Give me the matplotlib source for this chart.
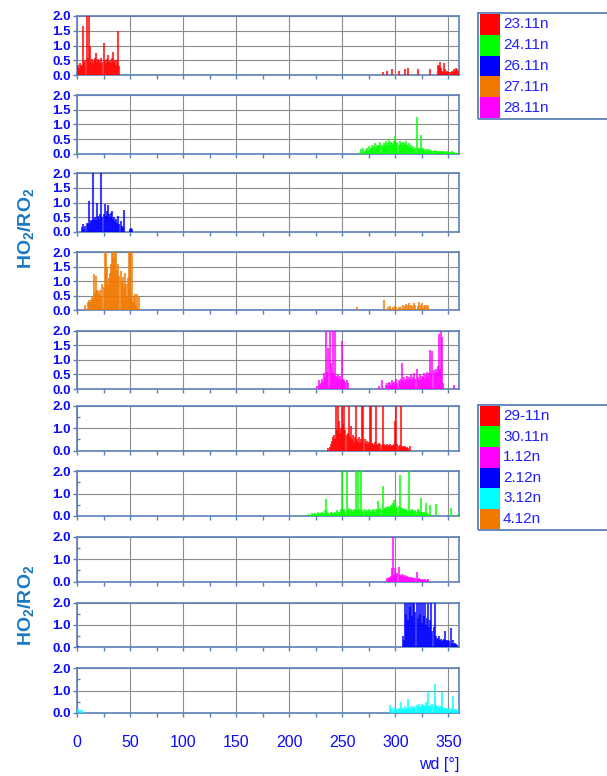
import numpy as np
import matplotlib
matplotlib.use("Agg")
import matplotlib.pyplot as plt
from matplotlib.patches import Rectangle
from matplotlib.ticker import MultipleLocator, FormatStrFormatter

plt.rcParams['font.family'] = ['Liberation Sans', 'DejaVu Sans']

# ---- data: wind direction (deg) and HO2/RO2 ratio per night ----
wd_2311 = [1, 2, 3, 4, 5, 6, 7, 8, 9, 10, 11, 12, 13, 14, 15, 16, 17, 18, 19, 20,
           21, 22, 23, 24, 25, 26, 27, 28, 29, 30, 31, 32, 33, 34, 35, 36, 37, 38, 39, 40,
           288, 292, 297, 303, 309, 312, 321, 333, 340, 341, 342, 343, 344, 345, 346, 347,
           348, 349, 350, 351, 352, 353, 354, 355, 356, 357, 358, 359]
r_2311 = [.35, .25, .4, .3, .35, 1.65, .45, .5, 2.0, .6, 2.0, 1.0, .45, .55, .4, .5, .6, .75, .45, .55,
          .5, .4, .6, .45, 1.1, .5, .4, .55, .7, .45, .5, .4, .6, .8, .45, .5, .35, .5, 1.5, .3,
          .1, .15, .2, .15, .2, .25, .2, .2, .35, .3, .45, .25, .15, .1, .4, .2,
          .1, .15, .1, .1, .1, .15, .1, .2, .15, .25, .2, .15]

wd_2411 = [1, 268, 269, 270, 271, 272, 273, 274, 275, 276, 277, 278, 279, 280, 281, 282, 283, 284,
           285, 286, 287, 288, 289, 290, 291, 292, 293, 294, 295, 296, 297, 298, 299, 300, 301,
           302, 303, 304, 305, 306, 307, 308, 309, 310, 311, 312, 313, 314, 315, 316, 317, 318,
           319, 320, 321, 322, 323, 324, 325, 326, 327, 328, 329, 330, 331, 332, 333, 334, 335,
           336, 337, 338, 339, 340, 341, 342, 343, 344, 345, 346, 347, 348, 349, 350, 351, 352,
           353, 354, 355, 356, 357, 358, 359]
r_2411 = [.03, .15, .05, .2, .1, .15, .2, .1, .25, .15, .2, .3, .2, .25, .35, .2, .3, .25,
          .3, .4, .3, .25, .35, .3, .45, .3, .35, .5, .3, .4, .35, .3, .45, .6, .35,
          .4, .3, .45, .35, .3, .4, .35, .3, .45, .3, .25, .35, .2, .3, .2, .25, .15,
          .2, 1.25, .2, .15, .2, .65, .15, .2, .1, .15, .1, .15, .1, .15, .1, .12, .08,
          .1, .12, .08, .1, .06, .1, .05, .08, .1, .05, .08, .06, .05, .08, .05, .06, .05,
          .08, .04, .05, .03, .04, .02, .03]

wd_2611 = [5, 6, 7, 8, 9, 10, 11, 12, 13, 14, 15, 16, 17, 18, 19, 20, 21, 22, 23, 24,
           25, 26, 27, 28, 29, 30, 31, 32, 33, 34, 35, 36, 37, 38, 39, 40, 41, 42, 43, 44,
           50, 51, 52]
r_2611 = [.15, .25, .1, .2, .3, .25, 1.05, .3, .4, .35, 2.0, .45, .5, .4, 1.0, .55, .45, .6, 2.0, .5,
          .6, .95, .55, .7, .9, .6, .5, .65, .7, .45, .5, .35, .45, .3, .55, .25, .35, .2, .15, .75,
          .1, .12, .08]

wd_2711 = [8, 9, 10, 11, 12, 13, 14, 15, 16, 17, 18, 19, 20, 21, 22, 23, 24, 25, 26, 27,
           28, 29, 30, 31, 32, 33, 34, 35, 36, 37, 38, 39, 40, 41, 42, 43, 44, 45, 46, 47,
           48, 49, 50, 51, 52, 53, 54, 55, 56, 57, 58,
           264, 289, 293, 295, 298, 300, 301, 303, 305, 307, 309, 310, 312, 313, 315, 316,
           318, 319, 321, 322, 324, 325, 327, 328, 330, 331]
r_2711 = [.2, .05, .3, .35, .3, .35, .5, .4, 1.25, .6, 1.2, .7, .65, .55, .7, .5, .9, .8, 2.0, 2.0,
          1.5, .9, 1.1, 1.3, 1.6, 2.0, 2.0, 1.8, 2.0, 2.0, 1.4, 1.6, 1.2, 1.35, 1.0, 1.15, .8, 1.3, .9, .5,
          1.1, 2.0, 2.0, .4, 2.0, .3, .5, .55, .2, .55, .5,
          .1, .35, .1, .15, .1, .15, .1, .12, .1, .2, .15, .22, .18, .25, .2, .15,
          .25, .2, .15, .28, .2, .25, .15, .2, .18, .15]

wd_2811 = [226, 228, 229, 230, 231, 232, 233, 234, 235, 236, 237, 238, 239, 240, 241, 242, 243,
           244, 245, 246, 247, 248, 249, 250, 251, 252, 253, 254, 255,
           285, 287, 288, 291, 292, 293, 294, 295, 296, 297, 298, 299, 300, 301, 302, 303, 304,
           305, 306, 307, 308, 309, 310, 311, 312, 313, 314, 315, 316, 317, 318, 319, 320, 321,
           322, 323, 324, 325, 326, 327, 328, 329, 330, 331, 332, 333, 334, 335, 336, 337, 338,
           339, 340, 341, 342, 343, 344, 345, 355]
r_2811 = [.1, .3, .15, .2, .35, .25, .55, .4, 2.0, .6, 1.4, 2.0, .9, .6, 2.0, .5, 2.0,
          .45, .4, .5, .35, .45, .3, 1.65, .35, .3, .25, .3, .2,
          .1, .3, .05, .15, .2, .1, .25, .2, .15, .3, .2, .25, .15, .35, .2, .3, .25,
          .35, .9, .3, .4, .25, .35, .45, .3, .4, .35, .5, .3, .4, .55, .35, .7, .4,
          .3, .5, .35, .45, .4, .55, .35, .5, .6, .45, .55, 1.35, .5, 1.3, .65, .55, .7,
          .6, .8, 1.9, .7, 2.0, 1.8, .2, .15]

wd_2911 = [237, 238, 239, 240, 241, 242, 243, 244, 245, 246, 247, 248, 249, 250, 251, 252, 253,
           254, 255, 256, 257, 258, 259, 260, 261, 262, 263, 264, 265, 266, 267, 268, 269, 270,
           271, 272, 273, 274, 275, 276, 277, 278, 279, 280, 281, 282, 283, 284, 285, 286, 287,
           288, 289, 290, 291, 292, 293, 294, 295, 296, 297, 298, 299, 300, 301, 302, 303, 304,
           305, 306, 307, 308, 309, 310, 311, 312, 314]
r_2911 = [.1, .15, .3, .45, .6, .7, .5, 2.0, .9, 2.0, 1.3, .8, 1.0, 2.0, 1.2, 2.0, .9,
          .7, .8, 2.0, .6, 1.1, .5, .7, .4, .6, 2.0, .5, .4, .6, .35, .5, 2.0, 2.0,
          .5, .35, .45, .3, .4, 2.0, 2.0, .35, .3, .25, .4, 2.0, .3, .25, .35, .3, .25,
          2.0, .3, .2, .25, .3, .2, .25, .3, .2, .25, .2, .3, 1.3, 2.0, .3, .2, .25,
          2.0, .15, .2, .15, .2, .1, .15, .1, .2]

wd_3011 = [206, 219, 220, 221, 222, 223, 224, 225, 226, 227, 228, 229, 230, 231, 232, 233, 234,
           235, 236, 237, 238, 239, 240, 241, 242, 243, 244, 245, 246, 247, 248, 249, 250, 251,
           252, 253, 254, 255, 256, 257, 258, 259, 260, 261, 262, 263, 264, 265, 266, 267, 268,
           269, 270, 271, 272, 273, 274, 275, 276, 277, 278, 279, 280, 281, 282, 283, 284, 285,
           286, 287, 288, 289, 290, 291, 292, 293, 294, 295, 296, 297, 298, 299, 300, 301, 302,
           303, 304, 305, 306, 307, 308, 309, 310, 311, 312, 313, 314, 315, 316, 317, 318, 319,
           320, 321, 322, 323, 324, 325, 326, 327, 328, 329, 330, 331, 333, 338, 352, 359]
r_3011 = [.03, .1, .05, .12, .08, .1, .15, .1, .08, .2, .1, .15, .12, .2, .15, .1, .25,
          .75, .2, .15, .1, .2, .12, .15, .1, .2, .15, .25, .1, .2, .15, .3, 2.0, .25,
          .3, .2, 2.0, .25, .35, .2, .3, .25, .2, .3, .25, 2.0, .2, 2.0, .3, .25, 2.0,
          .2, .25, .3, .2, .25, .15, .3, .2, .25, .2, .3, .25, .2, .3, .25, .65, .3,
          .35, .25, 1.35, .3, .35, .4, .3, .45, .35, .4, .5, .45, .6, .7, .55, .4, .35,
          .45, 1.85, .4, .3, .35, .3, .25, .3, .25, .2, 2.0, .25, .2, .3, .25, .2, .25,
          .2, .3, .25, .2, .8, .2, .15, .2, .15, .6, .15, .1, .5, .55, .35, .1]

wd_0112 = [291, 292, 293, 294, 295, 296, 297, 298, 299, 300, 301, 302, 303, 304, 305, 306, 307,
           308, 309, 310, 311, 312, 313, 314, 315, 316, 317, 318, 319, 320, 321, 322, 323, 324,
           325, 326, 327, 328, 329, 330, 331]
r_0112 = [.05, .15, .1, .2, .15, .25, .6, 2.0, .3, .6, .35, .4, .65, .3, .25, .35, .3,
          .25, .3, .2, .25, .2, .15, .2, .15, .2, .15, .1, .15, .45, .1, .15, .1, .12,
          .08, .1, .08, .1, .05, .08, .1]

wd_0212 = [1, 307, 308, 309, 310, 311, 312, 313, 314, 315, 316, 317, 318, 319, 320, 321, 322,
           323, 324, 325, 326, 327, 328, 329, 330, 331, 332, 333, 334, 335, 336, 337, 338, 339,
           340, 341, 342, 343, 344, 345, 346, 347, 348, 349, 350, 351, 352, 353, 354, 355, 356,
           357, 358]
r_0212 = [.05, .5, .3, 2.0, 1.5, 2.0, 1.2, 2.0, 1.8, 2.0, 1.4, 2.0, 2.0, 1.6, 2.0, 1.3, 2.0,
          1.5, 2.0, 1.1, 2.0, 1.4, 2.0, 1.0, 1.3, 2.0, .9, 1.2, 2.0, .7, .9, 2.0, .5, .35,
          .4, .5, .3, .35, .25, .3, .35, .7, .3, .25, .3, .25, .85, .2, .3, .15, .2,
          .15, .1]

wd_0312 = [1, 3, 5, 6, 295, 296, 297, 298, 299, 300, 301, 302, 303, 304, 305, 306, 307, 308,
           309, 310, 311, 312, 313, 314, 315, 316, 317, 318, 319, 320, 321, 322, 323, 324, 325,
           326, 327, 328, 329, 330, 331, 332, 333, 334, 335, 336, 337, 338, 339, 340, 341, 342,
           343, 344, 345, 346, 347, 348, 349, 350, 351, 352, 353, 354, 355, 356, 357, 358, 359]
r_0312 = [.15, .1, .12, .05, .35, .1, .2, .05, .1, .25, .1, .15, .2, .1, .5, .15, .2, .1,
          .3, .15, .2, .6, .2, .15, .3, .2, .25, .3, .2, .35, .25, .4, .3, .25, .4,
          .3, .35, .25, .5, .3, 1.0, .25, .35, .3, .4, .3, 1.3, .35, .25, .3, .2, .25,
          .3, .95, .2, .15, .2, .15, .2, .1, .15, .2, .1, .75, .15, .1, .15, .1, .08]

nights_top = ['23.11n', '24.11n', '26.11n', '27.11n', '28.11n']
nights_bot = ['29-11n', '30.11n', '1.12n', '2.12n', '3.12n', '4.12n']
colors_top = ['#ff0000', '#00ff00', '#0000ff', '#f07800', '#ff00ff']
colors_bot = ['#ff0000', '#00ff00', '#ff00ff', '#0000ff', '#00ffff', '#f07800']

panels = [
    (wd_2311, r_2311, '#ff0000'),
    (wd_2411, r_2411, '#00ff00'),
    (wd_2611, r_2611, '#0000ff'),
    (wd_2711, r_2711, '#f07800'),
    (wd_2811, r_2811, '#ff00ff'),
    (wd_2911, r_2911, '#ff0000'),
    (wd_3011, r_3011, '#00ff00'),
    (wd_0112, r_0112, '#ff00ff'),
    (wd_0212, r_0212, '#0000ff'),
    (wd_0312, r_0312, '#00ffff'),
]

# ---- layout (pixel positions of the reference) ----
W, H = 607, 776
fig = plt.figure(figsize=(W / 100, H / 100), dpi=100)

spine_c = '#5b80b8'
tick_c = '#0a0aff'
grid_c = '#8c8c8c'

tops = [16, 95.3, 173.3, 252.3, 330.7, 405.7, 471.3, 536.7, 602.7, 668.3]
bots = [75.3, 153.7, 231.7, 310.3, 389, 450.7, 516, 581.7, 647, 712.7]
x0, x1 = 77, 459

for i, (wd, r, c) in enumerate(panels):
    ax = fig.add_axes([x0 / W, 1 - bots[i] / H, (x1 - x0) / W, (bots[i] - tops[i]) / H])
    ax.vlines(wd, 0, r, color=c, lw=1.5, alpha=0.75, zorder=3)
    ax.set_xlim(0, 360)
    ax.set_ylim(0, 2.0)
    ax.xaxis.set_major_locator(MultipleLocator(50))
    ax.xaxis.set_minor_locator(MultipleLocator(25))
    if i < 5:
        ax.yaxis.set_major_locator(MultipleLocator(0.5))
    else:
        ax.yaxis.set_major_locator(MultipleLocator(1.0))
        ax.yaxis.set_minor_locator(MultipleLocator(0.5))
    ax.yaxis.set_major_formatter(FormatStrFormatter('%.1f'))
    ax.grid(True, which='major', color=grid_c, lw=0.8, zorder=1)
    for s in ax.spines.values():
        s.set_color(spine_c)
        s.set_linewidth(1.2)
    ax.tick_params(axis='both', which='both', color=spine_c, direction='out', width=1.0)
    ax.tick_params(axis='x', which='both', length=3)
    ax.tick_params(axis='y', which='major', length=3, pad=1.5,
                   labelcolor=tick_c, labelsize=9.5)
    ax.tick_params(axis='y', which='minor', length=2, direction='in')
    for lab in ax.get_yticklabels():
        lab.set_fontweight('bold')
    if i == 9:
        ax.tick_params(axis='x', which='major', labelcolor=tick_c, labelsize=11.5, pad=13)
    else:
        ax.tick_params(axis='x', labelbottom=False)

fig.text(x1 / W, 1 - 765 / H, 'wd [°]', ha='right', va='center',
         fontsize=11.5, color=tick_c)

for yc in [228, 605]:
    fig.text(26 / W, 1 - yc / H, r'HO$\mathregular{_2}$/RO$\mathregular{_2}$',
             rotation=90, ha='center', va='center', fontsize=14,
             fontweight='bold', color='#1a78c2')


def legend_box(top, bot, names, cols):
    fig.add_artist(Rectangle((478 / W, 1 - bot / H), (W + 5 - 478) / W, (bot - top) / H,
                             transform=fig.transFigure, fill=False,
                             ec=spine_c, lw=1.3, clip_on=False))
    n = len(names)
    h = (bot - top - 2) / n
    for k in range(n):
        yt = top + 1 + k * h
        fig.add_artist(Rectangle((480 / W, 1 - (yt + h) / H), 20 / W, h / H,
                                 transform=fig.transFigure, color=cols[k], lw=0))
        fig.text(503 / W, 1 - (yt + h / 2) / H, names[k], ha='left', va='center',
                 fontsize=11, color='#2020ff')


legend_box(13, 119, nights_top, colors_top)
legend_box(405, 530, nights_bot, colors_bot)

fig.savefig('out.png', dpi=100)
